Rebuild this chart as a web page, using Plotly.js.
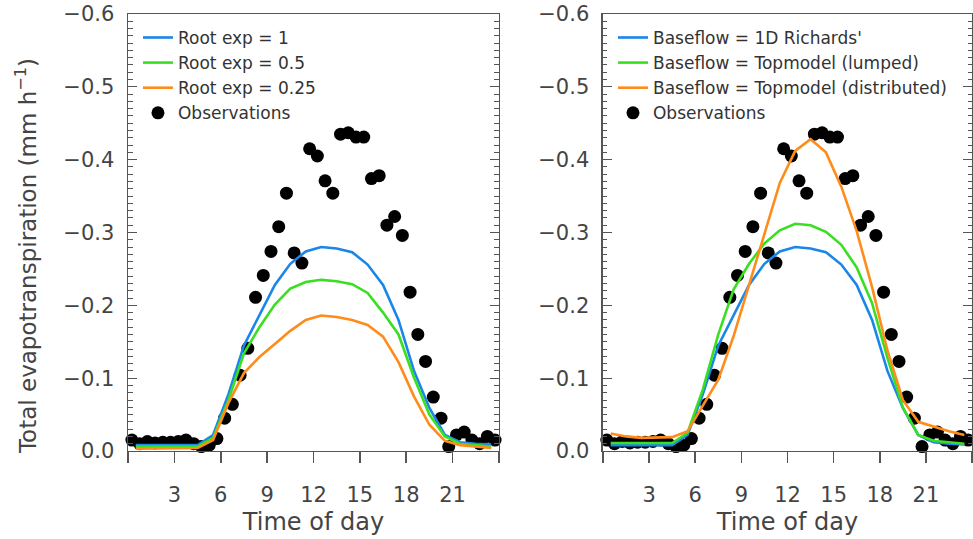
<!DOCTYPE html>
<html>
<head>
<meta charset="utf-8">
<script src="https://cdn.plot.ly/plotly-3.0.1.min.js"></script>
<style>body{margin:0;padding:0;background:#fff}</style>
</head>
<body>
<div id="chart" style="width:973px;height:539px;"></div>
<script>
// ---- data ----
const obsHours = [0.25,0.75,1.25,1.75,2.25,2.75,3.25,3.75,4.25,4.75,5.25,5.75,
  6.25,6.75,7.25,7.75,8.25,8.75,9.25,9.75,10.25,10.75,11.25,11.75,
  12.25,12.75,13.25,13.75,14.25,14.75,15.25,15.75,16.25,16.75,17.25,17.75,
  18.25,18.75,19.25,19.75,20.25,20.75,21.25,21.75,22.25,22.75,23.25,23.75];
const obsET = [-0.015,-0.010,-0.013,-0.011,-0.012,-0.012,-0.013,-0.015,-0.010,-0.006,-0.008,-0.017,
  -0.045,-0.064,-0.104,-0.141,-0.211,-0.241,-0.274,-0.308,-0.354,-0.272,-0.258,-0.415,
  -0.405,-0.371,-0.354,-0.435,-0.437,-0.431,-0.431,-0.374,-0.378,-0.310,-0.322,-0.296,
  -0.218,-0.160,-0.123,-0.074,-0.045,-0.006,-0.022,-0.026,-0.015,-0.010,-0.020,-0.015];

const modelHours = [0.5,1.5,2.5,3.5,4.5,5.5,6.5,7.5,8.5,9.5,10.5,11.5,
  12.5,13.5,14.5,15.5,16.5,17.5,18.5,19.5,20.5,21.5,22.5,23.5];

// left panel: root exponent
const rootExp1 = [-0.008,-0.008,-0.007,-0.007,-0.008,-0.022,-0.078,-0.145,-0.187,-0.228,-0.257,-0.274,
  -0.280,-0.278,-0.273,-0.256,-0.228,-0.180,-0.110,-0.059,-0.022,-0.012,-0.010,-0.009];
const rootExp05 = [-0.006,-0.006,-0.005,-0.005,-0.006,-0.018,-0.070,-0.134,-0.170,-0.201,-0.223,-0.232,
  -0.235,-0.233,-0.229,-0.217,-0.190,-0.160,-0.101,-0.050,-0.020,-0.010,-0.008,-0.006];
const rootExp025 = [-0.003,-0.003,-0.003,-0.003,-0.004,-0.015,-0.066,-0.107,-0.129,-0.147,-0.165,-0.180,
  -0.186,-0.184,-0.180,-0.173,-0.157,-0.122,-0.075,-0.036,-0.014,-0.008,-0.006,-0.004];

// right panel: baseflow scheme
const bfRichards = rootExp1;
const bfTopLumped = [-0.011,-0.011,-0.010,-0.010,-0.011,-0.025,-0.085,-0.160,-0.222,-0.257,-0.285,-0.303,
  -0.312,-0.310,-0.301,-0.283,-0.252,-0.203,-0.128,-0.060,-0.022,-0.014,-0.012,-0.010];
const bfTopDistr = [-0.024,-0.020,-0.018,-0.018,-0.019,-0.027,-0.062,-0.098,-0.158,-0.229,-0.300,-0.368,
  -0.412,-0.428,-0.410,-0.363,-0.302,-0.225,-0.138,-0.070,-0.040,-0.033,-0.027,-0.022];

const leftNames = ['Root exp = 1','Root exp = 0.5','Root exp = 0.25'];
const rightNames = ["Baseflow = 1D Richards'",'Baseflow = Topmodel (lumped)','Baseflow = Topmodel (distributed)'];
const xTickVals = [3,6,9,12,15,18,21];
const xTickText = ['3','6','9','12','15','18','21'];
const xEdgeTicks = [0,24];
const yTickVals = [-0.6,-0.5,-0.4,-0.3,-0.2,-0.1,0];
const yTickText = ['\u22120.6','\u22120.5','\u22120.4','\u22120.3','\u22120.2','\u22120.1','0.0'];

// ---- styles ----
const colors = ['#1a86e8','#3adf22','#ff8c1a'];
const FONT = 'DejaVu Sans, Liberation Sans, sans-serif';
const AX = '#555';
const TXT = '#444';

function lineTrace(y, name, c, xa, ya, leg, rank){
  return {x: modelHours, y: y, name: name, type:'scatter', mode:'lines',
    line:{color:c, width:2.6}, xaxis:xa, yaxis:ya, legend:leg, legendrank:rank, cliponaxis:false};
}
function obsTrace(xa, ya, leg){
  return {x: obsHours, y: obsET, name:'Observations', type:'scatter', mode:'markers',
    marker:{color:'#000', size:13}, xaxis:xa, yaxis:ya, legend:leg, legendrank:10, cliponaxis:false};
}

const data = [
  obsTrace('x','y','legend'),
  lineTrace(rootExp1, leftNames[0], colors[0], 'x','y','legend',1),
  lineTrace(rootExp05, leftNames[1], colors[1], 'x','y','legend',2),
  lineTrace(rootExp025, leftNames[2], colors[2], 'x','y','legend',3),
  obsTrace('x2','y2','legend2'),
  lineTrace(bfRichards, rightNames[0], colors[0], 'x2','y2','legend2',1),
  lineTrace(bfTopLumped, rightNames[1], colors[1], 'x2','y2','legend2',2),
  lineTrace(bfTopDistr, rightNames[2], colors[2], 'x2','y2','legend2',3)
];

function xaxis(dom){
  return {domain:dom, range:[0,24], tickmode:'array', tickvals:xTickVals, ticktext:xTickText,
    ticks:'outside', ticklen:11, tickwidth:1.5, tickcolor:AX, showline:true, linecolor:AX, linewidth:1.5,
    mirror:true, showgrid:false, zeroline:false, ticklabelstandoff:13,
    minor:{tickmode:'array', tickvals:xEdgeTicks, ticks:'outside', ticklen:11, tickwidth:1.5, tickcolor:AX, showgrid:false},
    tickfont:{family:FONT, size:21, color:TXT},
    title:{text:'Time of day', font:{family:FONT, size:24, color:TXT}, standoff:7}};
}
function yaxis(anchor){
  return {domain:[0.1633,0.974], range:[0,-0.6], anchor:anchor, tickmode:'array', tickvals:yTickVals, ticktext:yTickText,
    ticks:'inside', ticklen:9, tickwidth:1.3, tickcolor:AX, showline:true, linecolor:AX, linewidth:1.5,
    mirror:'ticks', showgrid:false, zeroline:false, ticklabelstandoff:8,
    minor:{tickmode:'linear', tick0:0, dtick:0.01, ticks:'inside', ticklen:4.5, tickwidth:1, tickcolor:AX, showgrid:false},
    tickfont:{family:FONT, size:21, color:TXT}};
}

const legendBase = {xanchor:'left', yanchor:'top', y:0.963, bgcolor:'rgba(0,0,0,0)',
  font:{family:FONT, size:17, color:'#333'}, itemwidth:30, tracegroupgap:0, traceorder:'normal'};

const layout = {
  width:973, height:539, margin:{l:0,r:0,t:0,b:0}, paper_bgcolor:'#fff', plot_bgcolor:'#fff',
  showlegend:true,
  xaxis: Object.assign(xaxis([0.1316,0.5128]), {anchor:'y'}),
  yaxis: yaxis('x'),
  xaxis2: Object.assign(xaxis([0.6197,0.999]), {anchor:'y2'}),
  yaxis2: yaxis('x2'),
  legend: Object.assign({}, legendBase, {x:0.1418}),
  legend2: Object.assign({}, legendBase, {x:0.630}),
  annotations:[{
    text:'Total evapotranspiration (mm h<sup>\u22121</sup>)', xref:'paper', yref:'paper',
    x:26/973, y:0.525, xanchor:'center', yanchor:'middle', textangle:-90, showarrow:false,
    font:{family:FONT, size:23, color:TXT}
  }]
};

Plotly.newPlot('chart', data, layout, {displayModeBar:false, staticPlot:true});
</script>
</body>
</html>
